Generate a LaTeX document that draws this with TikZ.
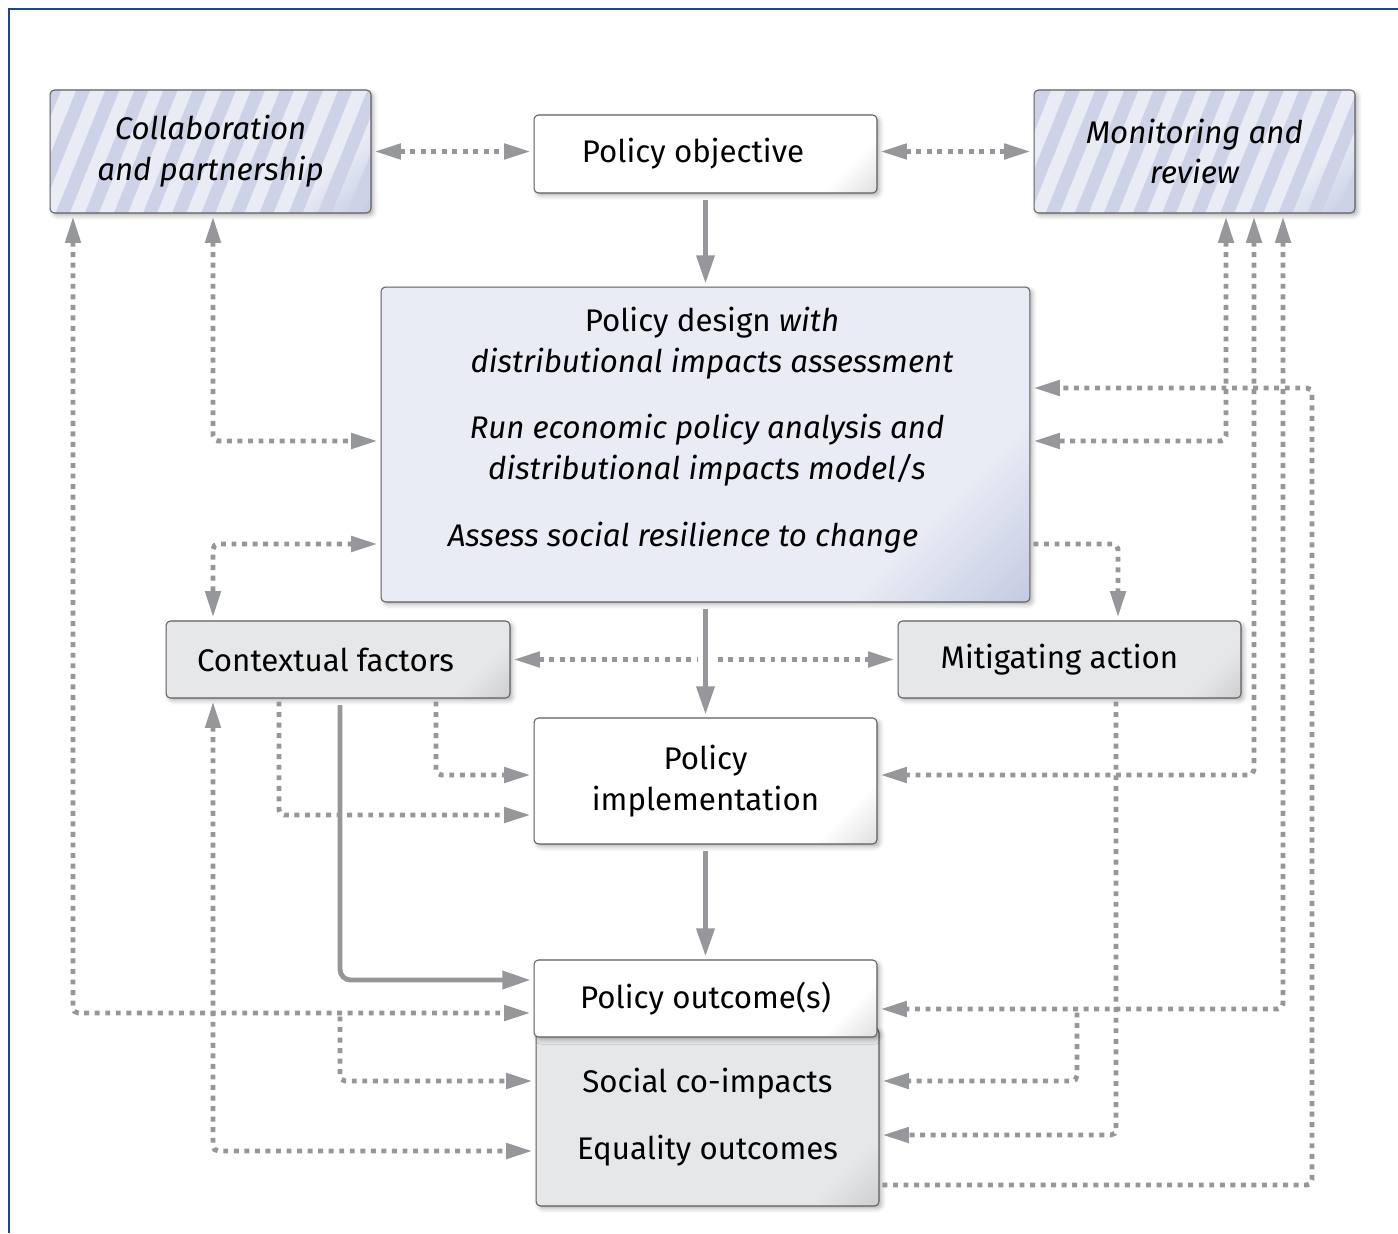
\documentclass[tikz,border=0pt]{standalone}
\usepackage{fontspec}
\setmainfont{Fira Sans}
\usetikzlibrary{arrows.meta,calc,patterns.meta,shadows.blur}
\definecolor{linegray}{RGB}{150,151,155}
\definecolor{boxline}{RGB}{95,95,100}
\definecolor{paleblue}{RGB}{233,236,245}
\definecolor{stripeblue}{RGB}{205,210,230}
\definecolor{deepblue}{RGB}{155,165,205}
\definecolor{palegray}{RGB}{230,231,233}
\definecolor{frameblue}{RGB}{30,70,140}
\newcommand{\diagfont}{\fontsize{17.8}{23.3}\selectfont}
\pgfdeclarehorizontalshading{whitecorner}{100bp}{color(0bp)=(white); color(76bp)=(white); color(100bp)=(black!32)}
\pgfdeclarehorizontalshading{bluecorner}{100bp}{color(0bp)=(paleblue); color(72bp)=(paleblue); color(100bp)=(deepblue)}
\pgfdeclarehorizontalshading{graycorner}{100bp}{color(0bp)=(palegray); color(76bp)=(palegray); color(100bp)=(black!34)}

\begin{document}
\begin{tikzpicture}[
        x=0.02cm, y=-0.02cm,
        font=\diagfont,
        box/.style={draw=boxline, line width=0.6pt, rounded corners=2.5pt, inner sep=0pt, outer sep=0pt, align=center,
            blur shadow={shadow xshift=1.5pt, shadow yshift=-1.5pt, shadow blur radius=2.5pt, shadow opacity=30}},
        whitebox/.style={box, shade, shading=whitecorner, shading angle=-45},
        graybox/.style={box, shade, shading=graycorner, shading angle=-45},
        bluebox/.style={box, shade, shading=bluecorner, shading angle=-45},
        stripebox/.style={box, preaction={shade, shading=bluecorner, shading angle=-45},
            pattern={Lines[angle=68, distance=0.54cm, line width=0.26cm]}, pattern color=stripeblue,
            font=\diagfont\itshape},
        dots/.style={draw=linegray, line width=2.8pt, dash pattern=on 2.8pt off 3.2pt, rounded corners=3pt,
            shorten <=2pt, shorten >=2pt, >={Triangle[length=15pt, width=8.5pt]}},
        solidline/.style={draw=linegray, line width=2.8pt, shorten <=4pt, shorten >=2pt,
            >={Triangle[length=16pt, width=10pt]}}
    ]
    \useasboundingbox (0,0) rectangle (1398,1233);
    \draw[frameblue, line width=1.2pt] (9,1233) -- (9,9) -- (1398,9);

    % boxes
    \node[stripebox, minimum width=6.42cm, minimum height=2.46cm] (collab) at (210.5,151.5) {Collaboration\\and partnership};
    \node[whitebox, minimum width=6.86cm, minimum height=1.56cm] (obj) at (705.5,154) {Policy objective\hspace*{0.5cm}};
    \node[stripebox, minimum width=6.42cm, minimum height=2.46cm] (monitor) at (1194.5,151.5) {Monitoring and\\review};
    \node[bluebox, minimum width=12.98cm, minimum height=6.30cm] (design) at (705.5,444.5) {};
    \node[align=center] (dtop) at (712,343.5) {Policy design \textit{with}\\\textit{distributional impacts assessment}};
    \node[align=center, font=\diagfont\itshape] (dmid) at (707,450) {Run economic policy analysis and\\distributional impacts model/s};
    \node[font=\diagfont\itshape] (dlow) at (683,538) {Assess social resilience to change};
    \node[graybox, minimum width=6.88cm, minimum height=1.54cm] (context) at (338,659.5) {Contextual factors\hspace*{0.5cm}};
    \node[graybox, minimum width=6.86cm, minimum height=1.54cm] (mitig) at (1069.5,659.5) {Mitigating action\hspace*{0.4cm}};
    \node[whitebox, minimum width=6.86cm, minimum height=2.52cm] (impl) at (705.5,781) {Policy\\implementation};
    \node[graybox, minimum width=6.86cm, minimum height=3.56cm] (impacts) at (707.5,1117) {Social co-impacts\\[14.8pt]Equality outcomes};
    \node[whitebox, minimum width=6.86cm, minimum height=1.54cm] (outcome) at (705.5,998.5) {Policy outcome(s)};

    % top row
    \draw[dots,<->] (collab.east) -- (collab.east -| obj.west);
    \draw[dots,<->] (monitor.west -| obj.east) -- (monitor.west);
    \draw[solidline,->] (obj.south) -- (design.north);

    % left side
    \draw[dots,<->] (collab.south -| 213,0) |- (design.west |- 0,441);
    \draw[dots,<->] (collab.south -| 73,0) |- (outcome.west |- 0,1013);
    \coordinate (lbranch) at (340,1013);
    \draw[dots,->] (lbranch) |- (impacts.west |- 0,1081);
    \draw[dots,<->] (design.west |- 0,544) -| (context.north -| 213,0);
    \draw[dots,<->] (context.south -| 213,0) |- (impacts.west |- 0,1151);
    \draw[dots,->] (context.south -| 279,0) |- (impl.west |- 0,815);
    \draw[dots,->] (context.south -| 436,0) |- (impl.west |- 0,775);
    \draw[solidline,->,rounded corners=6pt] (context.south -| 340,0) |- (outcome.west |- 0,980);
    \draw[dots,<->] (context.east) -- (mitig.west);

    % main column
    \draw[solidline,->,preaction={draw=white, line width=8pt, arrows=-}] (design.south) -- (impl.north);
    \draw[solidline,->] (impl.south) -- (outcome.north);

    % right side
    \draw[dots,->] (design.east |- 0,544) -| (mitig.north -| 1118,0);
    \draw[dots,<->] (monitor.south -| 1226,0) |- (design.east |- 0,441);
    \draw[dots,<->] (monitor.south -| 1254,0) |- (impl.east |- 0,775);
    \draw[dots,<->] (monitor.south -| 1283,0) |- (outcome.east |- 0,1009);
    \coordinate (rbranch) at (1077,1009);
    \draw[dots,->] (rbranch) |- (impacts.east |- 0,1081);
    \draw[dots,->] (mitig.south -| 1116,0) |- (impacts.east |- 0,1135);
    \coordinate (rtrack) at (1312,388);
    \draw[dots,->] (impacts.east |- 0,1185) -| (rtrack) -- (design.east |- rtrack);
\end{tikzpicture}
\end{document}
